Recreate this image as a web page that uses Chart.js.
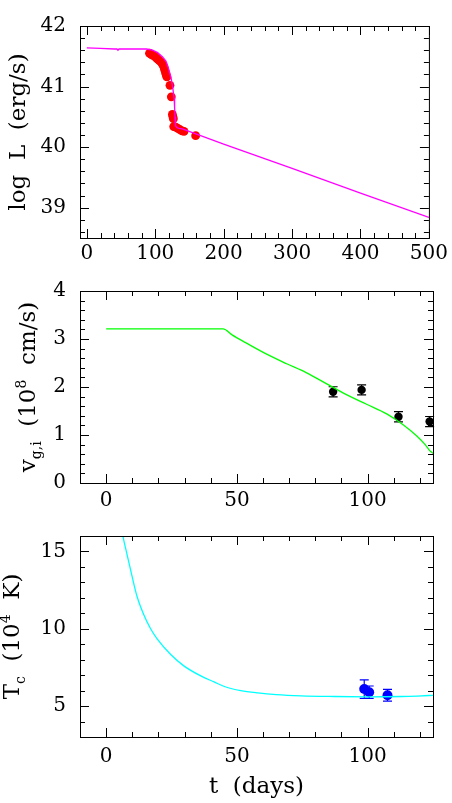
<!DOCTYPE html>
<html>
<head>
<meta charset="utf-8">
<script src="https://cdn.jsdelivr.net/npm/chart.js@4/dist/chart.umd.min.js"></script>
<style>
body { margin: 0; background: #fff; }
#wrap { position: relative; width: 452px; height: 803px; }
canvas { position: absolute; left: 0; }
</style>
</head>
<body>
<div id="wrap">
  <canvas id="c1" width="452" height="265" style="top:0px"></canvas>
  <canvas id="c2" width="452" height="245" style="top:265px"></canvas>
  <canvas id="c3" width="452" height="293" style="top:510px"></canvas>
</div>
<script>
// --- panel 1: bolometric light curve, log L vs t
const lumModelT = [0, 20, 40, 44, 45.5, 47, 60, 77, 87, 96, 103.5, 110.7, 115.6, 118, 120.4, 123, 125.2, 126.5, 127.6, 128.3, 128.9, 129.5, 130, 132, 135, 139.6, 200, 300, 400, 500];
const lumModelL = [41.64, 41.63, 41.62, 41.62, 41.60, 41.62, 41.62, 41.62, 41.62, 41.60, 41.56, 41.49, 41.42, 41.35, 41.26, 41.15, 41.01, 40.90, 40.81, 40.65, 40.50, 40.40, 40.35, 40.32, 40.31, 40.30, 40.05, 39.65, 39.24, 38.84];
const lumObsT = [91.5, 93, 94.5, 96, 98, 100, 102, 104, 106, 108, 110, 111.5, 113, 114, 115, 116, 117, 121.5, 123.5, 125, 125.8, 126.5, 127, 130, 133, 136, 139, 142, 159];
const lumObsL = [41.55, 41.54, 41.53, 41.52, 41.51, 41.49, 41.47, 41.45, 41.43, 41.41, 41.38, 41.35, 41.31, 41.27, 41.23, 41.19, 41.16, 41.02, 40.83, 40.54, 40.50, 40.47, 40.34, 40.33, 40.31, 40.29, 40.27, 40.26, 40.19];
const lumXTicks = [0, 100, 200, 300, 400, 500];
const lumYTicks = [39, 40, 41, 42];

// --- panel 2: velocity
const velModelT = [0, 44.7, 48.3, 53.5, 61.2, 68.8, 76.5, 84.2, 91.9, 99.6, 107.3, 113.7, 118.8, 122, 124, 125.9];
const velModelV = [3.21, 3.21, 3.08, 2.92, 2.69, 2.49, 2.30, 2.07, 1.84, 1.64, 1.44, 1.21, 0.98, 0.80, 0.66, 0.59];
const velObsT = [86.8, 97.7, 111.8, 123.7];
const velObsV = [1.90, 1.94, 1.38, 1.28];
const velObsErr = [0.105, 0.105, 0.105, 0.105];
const velYTicks = [0, 1, 2, 3, 4];

// --- panel 3: colour temperature
const tempModelT = [6, 6.4, 8, 9.9, 11.8, 14.4, 17, 19.5, 24.6, 29.7, 36.2, 41.3, 45.5, 51.5, 58, 65, 74.6, 87.4, 100.3, 113, 119, 125.6];
const tempModelK = [16.4, 16.0, 14.8, 13.4, 12.1, 10.9, 10.0, 9.35, 8.35, 7.6, 6.95, 6.56, 6.25, 6.0, 5.85, 5.74, 5.66, 5.62, 5.6, 5.62, 5.65, 5.7];
const tempObsT = [98.7, 100.6, 107.6];
const tempObsK = [6.1, 5.9, 5.7];
const tempObsErr = [0.6, 0.4, 0.38];
const tempYTicks = [5, 10, 15];

const dayTicks = [0, 50, 100];

const FONT = '"DejaVu Serif", serif';

function pts(xs, ys) {
    return xs.map((x, i) => ({ x: x, y: ys[i] }));
}

// pgplot-like box: frame, inward ticks on all four sides, rich y title, error bars
const pgBox = {
    id: 'pgBox',
    beforeDatasetsDraw(chart, args, o) {
        const { ctx, scales: { x, y } } = chart;
        if (!o.errors) return;
        ctx.save();
        ctx.strokeStyle = o.errors.color;
        ctx.lineWidth = 1.2;
        o.errors.t.forEach((t, i) => {
            const px = x.getPixelForValue(t);
            const y1 = y.getPixelForValue(o.errors.v[i] + o.errors.e[i]);
            const y2 = y.getPixelForValue(o.errors.v[i] - o.errors.e[i]);
            ctx.beginPath();
            ctx.moveTo(px, y1); ctx.lineTo(px, y2);
            ctx.moveTo(px - 4.5, y1); ctx.lineTo(px + 4.5, y1);
            ctx.moveTo(px - 4.5, y2); ctx.lineTo(px + 4.5, y2);
            ctx.stroke();
        });
        ctx.restore();
    },
    afterDraw(chart, args, o) {
        const { ctx, chartArea: a, scales: { x, y } } = chart;
        ctx.save();
        ctx.strokeStyle = '#000';
        ctx.lineWidth = 1;
        ctx.strokeRect(a.left + 0.5, a.top + 0.5, a.right - a.left, a.bottom - a.top);

        ctx.beginPath();
        const tickX = (v, len) => {
            const p = Math.round(x.getPixelForValue(v)) + 0.5;
            ctx.moveTo(p, a.bottom); ctx.lineTo(p, a.bottom - len);
            ctx.moveTo(p, a.top); ctx.lineTo(p, a.top + len);
        };
        const tickY = (v, len) => {
            const p = Math.round(y.getPixelForValue(v)) + 0.5;
            ctx.moveTo(a.left, p); ctx.lineTo(a.left + len, p);
            ctx.moveTo(a.right, p); ctx.lineTo(a.right - len, p);
        };
        for (let i = Math.ceil(x.min / o.xMinor); i * o.xMinor <= x.max; i++) {
            const v = i * o.xMinor;
            tickX(v, Math.abs(v / o.xMajor - Math.round(v / o.xMajor)) < 1e-6 ? 9 : 5);
        }
        for (let i = Math.ceil(y.min / o.yMinor - 1e-6); i * o.yMinor <= y.max + 1e-6; i++) {
            const v = i * o.yMinor;
            tickY(v, Math.abs(v / o.yMajor - Math.round(v / o.yMajor)) < 1e-6 ? 9 : 5);
        }
        ctx.stroke();

        // y title with sub/superscripts, rotated
        const big = 23, small = 14;
        ctx.fillStyle = '#000';
        ctx.textBaseline = 'alphabetic';
        ctx.textAlign = 'left';
        let w = 0;
        o.title.forEach(s => {
            ctx.font = (s.k ? small : big) + 'px ' + FONT;
            w += ctx.measureText(s.t).width;
        });
        ctx.translate(o.titleX, (a.top + a.bottom) / 2);
        ctx.rotate(-Math.PI / 2);
        let cx = -w / 2;
        o.title.forEach(s => {
            ctx.font = (s.k ? small : big) + 'px ' + FONT;
            const dy = s.k === 'sub' ? 6 : s.k === 'sup' ? -9 : 0;
            ctx.fillText(s.t, cx, dy);
            cx += ctx.measureText(s.t).width;
        });
        ctx.restore();
    }
};

function makeChart(id, cfg) {
    const tickFont = { family: FONT, size: 20 };
    new Chart(document.getElementById(id), {
        type: 'scatter',
        data: { datasets: cfg.datasets },
        plugins: [pgBox],
        options: {
            responsive: false,
            animation: false,
            events: [],
            layout: { padding: { top: cfg.top, right: 19, left: 0, bottom: 0 } },
            plugins: { legend: { display: false }, tooltip: { enabled: false }, pgBox: cfg.box },
            scales: {
                x: {
                    type: 'linear', min: cfg.xMin, max: cfg.xMax,
                    grid: { display: false, drawTicks: false },
                    border: { display: false },
                    ticks: { color: '#000', font: tickFont, padding: cfg.xPad, maxRotation: 0 },
                    afterBuildTicks: s => { s.ticks = cfg.xTicks.map(v => ({ value: v })); },
                    afterFit: s => { s.height = cfg.xH; },
                    title: cfg.xTitle ? { display: true, text: cfg.xTitle, color: '#000', font: { family: FONT, size: 23 }, padding: { top: 0, bottom: 2 } } : { display: false }
                },
                y: {
                    type: 'linear', min: cfg.yMin, max: cfg.yMax,
                    grid: { display: false, drawTicks: false },
                    border: { display: false },
                    ticks: { color: '#000', font: tickFont, padding: 14 },
                    afterBuildTicks: s => { s.ticks = cfg.yTicks.map(v => ({ value: v })); },
                    afterFit: s => { s.width = 80; }
                }
            }
        }
    });
}

makeChart('c1', {
    top: 8, xMin: -10, xMax: 500, yMin: 38.5, yMax: 42, xH: 27, xPad: 4,
    xTicks: lumXTicks, yTicks: lumYTicks,
    box: { xMinor: 20, xMajor: 100, yMinor: 0.2, yMajor: 1, titleX: 25,
        title: [{ t: 'log  L  (erg/s)' }] },
    datasets: [
        { data: pts(lumModelT, lumModelL), showLine: true, borderColor: '#ff00ff', borderWidth: 1.3, pointRadius: 0 },
        { data: pts(lumObsT, lumObsL), showLine: false, backgroundColor: '#ff0000', borderColor: '#ff0000', pointRadius: 4.4, borderWidth: 0 }
    ]
});

makeChart('c2', {
    top: 15, xMin: -10, xMax: 125, yMin: 0, yMax: 4, xH: 27, xPad: 6,
    xTicks: dayTicks, yTicks: velYTicks,
    box: { xMinor: 10, xMajor: 50, yMinor: 0.2, yMajor: 1, titleX: 35,
        title: [{ t: 'v' }, { t: 'g,i', k: 'sub' }, { t: '  (10' }, { t: '8', k: 'sup' }, { t: '  cm/s)' }],
        errors: { color: '#000', t: velObsT, v: velObsV, e: velObsErr } },
    datasets: [
        { data: pts(velModelT, velModelV), showLine: true, borderColor: '#00ff00', borderWidth: 1.3, pointRadius: 0, cubicInterpolationMode: 'monotone' },
        { data: pts(velObsT, velObsV), showLine: false, backgroundColor: '#000', borderColor: '#000', pointRadius: 4.2, borderWidth: 0 }
    ]
});

makeChart('c3', {
    top: 10, xMin: -10, xMax: 125, yMin: 3, yMax: 16, xH: 66, xPad: 8,
    xTicks: dayTicks, yTicks: tempYTicks, xTitle: 't  (days)',
    box: { xMinor: 10, xMajor: 50, yMinor: 1, yMajor: 5, titleX: 19,
        title: [{ t: 'T' }, { t: 'c', k: 'sub' }, { t: '  (10' }, { t: '4', k: 'sup' }, { t: '  K)' }],
        errors: { color: '#0000ff', t: tempObsT, v: tempObsK, e: tempObsErr } },
    datasets: [
        { data: pts(tempModelT, tempModelK), showLine: true, borderColor: '#00ffff', borderWidth: 1.3, pointRadius: 0, cubicInterpolationMode: 'monotone' },
        { data: pts(tempObsT, tempObsK), showLine: false, backgroundColor: '#0000ff', borderColor: '#0000ff', pointRadius: 5, borderWidth: 0 }
    ]
});
</script>
</body>
</html>
